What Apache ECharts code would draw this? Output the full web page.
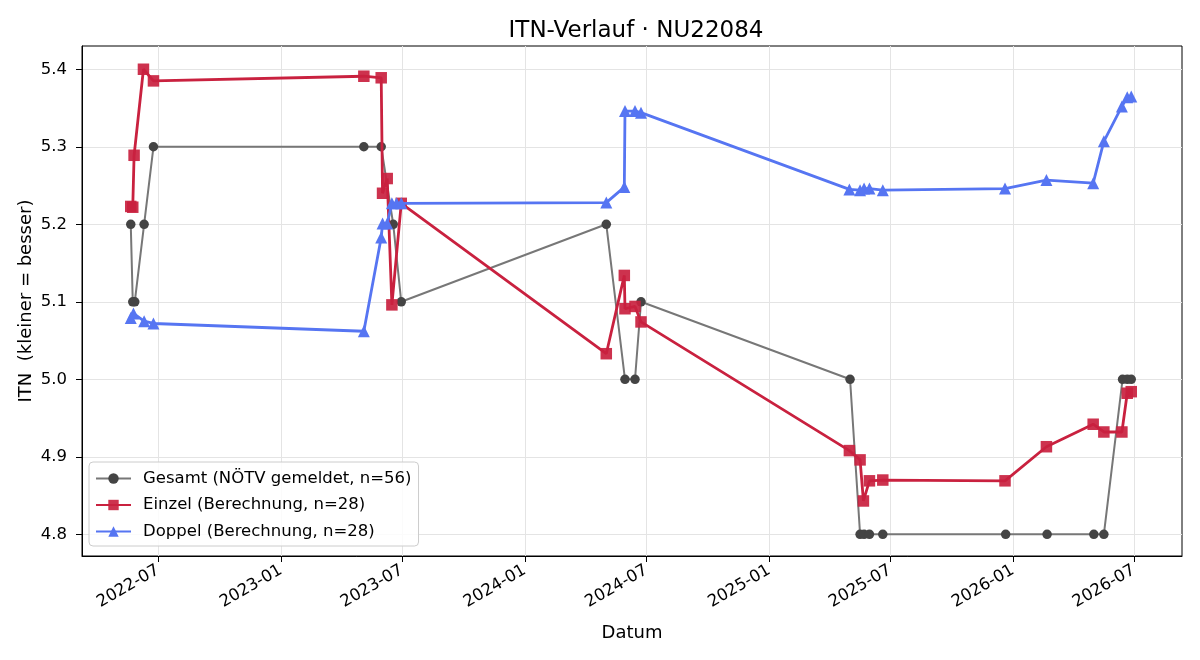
<!DOCTYPE html>
<html>
<head>
<meta charset="utf-8">
<script src="https://cdn.jsdelivr.net/npm/echarts@6/dist/echarts.min.js"></script>
<style>
  html, body { margin: 0; padding: 0; background: #fff; }
  #chart { width: 1200px; height: 660px; }
</style>
</head>
<body>
<div id="chart"></div>
<script>
// Daten
const gesamtDates = ['2022-05-21','2022-05-24','2022-05-27','2022-06-10','2022-06-24',
  '2023-05-05','2023-05-31','2023-06-18','2023-06-30',
  '2024-05-02','2024-05-30','2024-06-14','2024-06-23',
  '2025-05-02','2025-05-17','2025-05-23','2025-05-31','2025-06-20',
  '2025-12-21','2026-02-21','2026-05-02','2026-05-17','2026-06-14','2026-06-21','2026-06-27'];
const gesamtValues = [5.2, 5.1, 5.1, 5.2, 5.3,
  5.3, 5.3, 5.2, 5.1,
  5.2, 5.0, 5.0, 5.1,
  5.0, 4.8, 4.8, 4.8, 4.8,
  4.8, 4.8, 4.8, 4.8, 5.0, 5.0, 5.0];

const einzelDates = ['2022-05-21','2022-05-24','2022-05-26','2022-06-09','2022-06-24',
  '2023-05-05','2023-05-31','2023-06-02','2023-06-09','2023-06-16','2023-06-30',
  '2024-05-02','2024-05-29','2024-05-30','2024-06-14','2024-06-23',
  '2025-05-01','2025-05-17','2025-05-22','2025-05-31','2025-06-20',
  '2025-12-20','2026-02-20','2026-05-01','2026-05-17','2026-06-13','2026-06-21','2026-06-27'];
const einzelValues = [5.223, 5.222, 5.289, 5.400, 5.385,
  5.391, 5.389, 5.240, 5.259, 5.096, 5.227,
  5.033, 5.134, 5.091, 5.094, 5.074,
  4.908, 4.896, 4.843, 4.869, 4.870,
  4.869, 4.913, 4.942, 4.932, 4.932, 4.982, 4.984];

const doppelDates = ['2022-05-21','2022-05-25','2022-06-10','2022-06-24',
  '2023-05-05','2023-05-31','2023-06-02','2023-06-09','2023-06-16','2023-06-23','2023-06-30',
  '2024-05-02','2024-05-29','2024-05-30','2024-06-14','2024-06-23',
  '2025-05-01','2025-05-17','2025-05-23','2025-05-31','2025-06-20',
  '2025-12-20','2026-02-20','2026-05-01','2026-05-17','2026-06-13','2026-06-21','2026-06-27'];
const doppelValues = [5.079, 5.085, 5.075, 5.072,
  5.062, 5.183, 5.201, 5.201, 5.227, 5.227, 5.227,
  5.228, 5.248, 5.346, 5.346, 5.344,
  5.245, 5.244, 5.246, 5.246, 5.244,
  5.246, 5.257, 5.253, 5.307, 5.352, 5.364, 5.365];

const xTickLabels = ['2022-07','2023-01','2023-07','2024-01','2024-07','2025-01','2025-07','2026-01','2026-07'];
const yTicks = [4.8, 4.9, 5.0, 5.1, 5.2, 5.3, 5.4];

const toTs = s => Date.parse(s);
const pairs = (dates, values) => dates.map((d, i) => [toTs(d), values[i]]);

const chart = echarts.init(document.getElementById('chart'));
const font = 'DejaVu Sans';

chart.setOption({
  animation: false,
  textStyle: { fontFamily: font },
  title: {
    text: 'ITN-Verlauf · NU22084',
    left: 631, top: 15, textAlign: 'center',
    textStyle: { fontFamily: font, fontSize: 23, fontWeight: 'normal', color: '#000' }
  },
  grid: {
    left: 82, right: 18, top: 46, bottom: 104,
    show: true, borderColor: '#000', borderWidth: 1
  },
  legend: {
    orient: 'vertical',
    left: 89, top: 462,
    padding: [8, 7, 6, 6],
    itemGap: 9.5,
    itemWidth: 35, itemHeight: 13,
    backgroundColor: 'rgba(255,255,255,0.85)',
    borderColor: '#cccccc', borderWidth: 1, borderRadius: 4,
    textStyle: { fontFamily: font, fontSize: 16.5, color: '#000', padding: [0, 0, 0, 7] },
    data: ['Gesamt (NÖTV gemeldet, n=56)', 'Einzel (Berechnung, n=28)', 'Doppel (Berechnung, n=28)']
  },
  xAxis: {
    type: 'value',
    min: toTs('2022-03-09'),
    max: toTs('2026-09-11'),
    name: 'Datum',
    nameLocation: 'middle',
    nameGap: 68,
    nameTextStyle: { fontFamily: font, fontSize: 18, color: '#000' },
    axisLine: { show: true, lineStyle: { color: '#000' } },
    axisTick: { show: true, length: 6, lineStyle: { color: '#000' },
      customValues: xTickLabels.map(s => toTs(s + '-01')) },
    axisLabel: {
      rotate: 30, fontSize: 16.5, color: '#000', margin: 13,
      customValues: xTickLabels.map(s => toTs(s + '-01')),
      formatter: v => new Date(v).toISOString().slice(0, 7)
    },
    splitLine: { show: true, lineStyle: { color: '#e4e4e4' } }
  },
  yAxis: {
    type: 'value',
    min: 4.772, max: 5.430,
    name: 'ITN  (kleiner = besser)',
    nameLocation: 'middle',
    nameMoveOverlap: false,
    nameGap: 47,
    nameTextStyle: { fontFamily: font, fontSize: 18, color: '#000' },
    axisLine: { show: true, lineStyle: { color: '#000' } },
    axisTick: { show: true, length: 6, lineStyle: { color: '#000' }, customValues: yTicks },
    axisLabel: { fontSize: 16.5, color: '#000', margin: 15, customValues: yTicks,
      formatter: v => v.toFixed(1) },
    splitLine: { show: true, lineStyle: { color: '#e4e4e4' } }
  },
  series: [
    {
      name: 'Gesamt (NÖTV gemeldet, n=56)',
      type: 'line',
      data: pairs(gesamtDates, gesamtValues),
      symbol: 'circle', symbolSize: 9.5,
      lineStyle: { color: '#777777', width: 2 },
      itemStyle: { color: '#444444' },
      z: 2
    },
    {
      name: 'Einzel (Berechnung, n=28)',
      type: 'line',
      data: pairs(einzelDates, einzelValues),
      symbol: 'rect', symbolSize: 11.5,
      lineStyle: { color: '#c9213f', width: 2.8 },
      itemStyle: { color: '#c9213f', opacity: 0.92 },
      z: 3
    },
    {
      name: 'Doppel (Berechnung, n=28)',
      type: 'line',
      data: pairs(doppelDates, doppelValues),
      symbol: 'triangle', symbolSize: 12,
      lineStyle: { color: '#5675f2', width: 2.8 },
      itemStyle: { color: '#5675f2' },
      z: 4
    }
  ]
});

window.addEventListener('resize', chart.resize);
</script>
</body>
</html>
